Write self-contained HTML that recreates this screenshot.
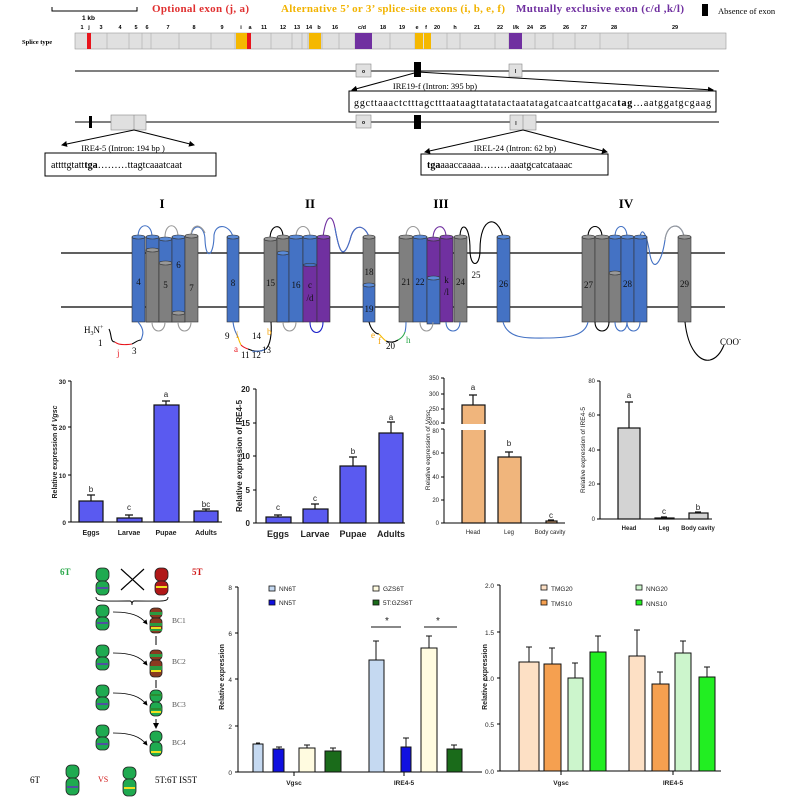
<!DOCTYPE html>
<html><head><meta charset="utf-8"><style>
html,body{margin:0;padding:0;background:#fff;}
svg{display:block;}
text{font-family:"Liberation Sans",sans-serif;}
.s{font-family:"Liberation Serif",serif;}
</style></head><body>
<svg width="792" height="803" viewBox="0 0 792 803" xmlns="http://www.w3.org/2000/svg">
<defs>
<marker id="ar" markerWidth="6" markerHeight="6" refX="5" refY="3" orient="auto"><path d="M0,0 L6,3 L0,6 z" fill="#000"/></marker>
</defs>
<!-- ===== TOP HEADER ===== -->
<path d="M52,7 V11 H137 V7" fill="none" stroke="#000" stroke-width="1"/>
<text x="82" y="20" font-size="6.5" font-weight="bold">1 kb</text>
<text class="s" x="152" y="12" font-size="11" fill="#e03030" font-weight="bold" textLength="97">Optional exon (j, a)</text>
<text class="s" x="281" y="12" font-size="11" fill="#f2b300" font-weight="bold" textLength="224">Alternative 5’ or 3’ splice-site exons (i, b, e, f)</text>
<text class="s" x="516" y="12" font-size="11" fill="#7030a0" font-weight="bold" textLength="168">Mutually exclusive exon (c/d ,k/l)</text>
<rect x="702" y="4" width="6" height="12" fill="#000"/>
<text class="s" x="718" y="14" font-size="8.5">Absence  of exon</text>
<!-- exon labels -->
<g font-size="5.5" font-weight="bold" text-anchor="middle">
<text x="82" y="29">1</text><text x="89" y="29">j</text><text x="101" y="29">3</text><text x="120" y="29">4</text><text x="136" y="29">5</text><text x="147" y="29">6</text><text x="168" y="29">7</text><text x="194" y="29">8</text><text x="222" y="29">9</text><text x="241" y="29">i</text><text x="250" y="29">a</text><text x="264" y="29">11</text><text x="283" y="29">12</text><text x="297" y="29">13</text><text x="309" y="29">14</text><text x="319" y="29">b</text><text x="335" y="29">16</text><text x="362" y="29">c/d</text><text x="383" y="29">18</text><text x="402" y="29">19</text><text x="417" y="29">e</text><text x="426" y="29">f</text><text x="437" y="29">20</text><text x="455" y="29">h</text><text x="477" y="29">21</text><text x="500" y="29">22</text><text x="516" y="29">l/k</text><text x="530" y="29">24</text><text x="543" y="29">25</text><text x="566" y="29">26</text><text x="584" y="29">27</text><text x="614" y="29">28</text><text x="675" y="29">29</text>
</g>
<text class="s" x="22" y="44" font-size="6.5" font-weight="bold">Splice type</text>
<rect x="75" y="33" width="651" height="16" fill="#e0e0e0" stroke="#999" stroke-width=".6"/>
<g stroke="#aaa" stroke-width=".6">
<path d="M107,33V49M129,33V49M142,33V49M151,33V49M179,33V49M211,33V49M235,33V49M271,33V49M292,33V49M302,33V49M308,33V49M322,33V49M339,33V49M355,33V49M390,33V49M415,33V49M447,33V49M460,33V49M495,33V49M509,33V49M535,33V49M553,33V49M575,33V49M600,33V49M628,33V49"/>
</g>
<rect x="87" y="33" width="4" height="16" fill="#e8141c"/>
<rect x="236" y="33" width="11" height="16" fill="#f5b800"/>
<rect x="247" y="33" width="4" height="16" fill="#e8141c"/>
<rect x="309" y="33" width="12" height="16" fill="#f5b800"/>
<rect x="355" y="33" width="17" height="16" fill="#7030a0"/>
<rect x="415" y="33" width="8" height="16" fill="#f5b800"/>
<rect x="424" y="33" width="7" height="16" fill="#f5b800"/>
<rect x="509" y="33" width="13" height="16" fill="#7030a0"/>
<!-- line 1 -->
<line x1="75" y1="71" x2="719" y2="71" stroke="#000" stroke-width="1"/>
<rect x="356" y="64" width="15" height="13" fill="#e0e0e0" stroke="#888" stroke-width=".6"/><text x="363.5" y="73" font-size="5" text-anchor="middle" font-weight="bold">o</text>
<rect x="414" y="62" width="7" height="15" fill="#000"/>
<rect x="509" y="64" width="13" height="13" fill="#e0e0e0" stroke="#888" stroke-width=".6"/><text x="515.5" y="73" font-size="5" text-anchor="middle" font-weight="bold">l</text>
<line x1="418" y1="72" x2="352" y2="90" stroke="#000" stroke-width="1" marker-end="url(#ar)"/>
<line x1="418" y1="72" x2="713" y2="90" stroke="#000" stroke-width="1" marker-end="url(#ar)"/>
<text class="s" x="435" y="89" font-size="8.5" text-anchor="middle">IRE19-f  (Intron: 395 bp)</text>
<rect x="349" y="91" width="367" height="21" fill="#fff" stroke="#000" stroke-width="1"/>
<text class="s" x="354" y="106" font-size="10" textLength="357">ggcttaaactctttagctttaataagttatatactaatatagatcaatcattgaca<tspan font-weight="bold">tag</tspan>…aatggatgcgaag</text>
<!-- line 2 -->
<line x1="75" y1="122" x2="719" y2="122" stroke="#000" stroke-width="1"/>
<rect x="89" y="116" width="3" height="12" fill="#000"/>
<rect x="111" y="115" width="35" height="15" fill="#e0e0e0" stroke="#888" stroke-width=".6"/><line x1="134" y1="115" x2="134" y2="130" stroke="#888" stroke-width=".6"/>
<rect x="356" y="115" width="15" height="13" fill="#e0e0e0" stroke="#888" stroke-width=".6"/><text x="363.5" y="124" font-size="5" text-anchor="middle" font-weight="bold">o</text>
<rect x="414" y="115" width="7" height="14" fill="#000"/>
<rect x="510" y="115" width="26" height="15" fill="#e0e0e0" stroke="#888" stroke-width=".6"/><line x1="523" y1="115" x2="523" y2="130" stroke="#888" stroke-width=".6"/><text x="516" y="125" font-size="5" text-anchor="middle" font-weight="bold">l</text>
<line x1="134" y1="130" x2="62" y2="145" stroke="#000" stroke-width="1" marker-end="url(#ar)"/>
<line x1="134" y1="130" x2="194" y2="145" stroke="#000" stroke-width="1" marker-end="url(#ar)"/>
<text class="s" x="123" y="151" font-size="8.5" text-anchor="middle">IRE4-5 (Intron: 194 bp )</text>
<rect x="45" y="153" width="171" height="23" fill="#fff" stroke="#000" stroke-width="1"/>
<text class="s" x="51" y="168" font-size="10">attttgtatt<tspan font-weight="bold">tga</tspan>………ttagtcaaatcaat</text>
<line x1="523" y1="130" x2="425" y2="152" stroke="#000" stroke-width="1" marker-end="url(#ar)"/>
<line x1="523" y1="130" x2="607" y2="152" stroke="#000" stroke-width="1" marker-end="url(#ar)"/>
<text class="s" x="515" y="151" font-size="8.5" text-anchor="middle">IREL-24 (Intron: 62 bp)</text>
<rect x="421" y="154" width="187" height="21" fill="#fff" stroke="#000" stroke-width="1"/>
<text class="s" x="427" y="168" font-size="10"><tspan font-weight="bold">tga</tspan>aaaccaaaa………aaatgcatcataaac</text>

<!-- ===== MEMBRANE ===== -->
<g class="s" font-size="13" font-weight="bold" text-anchor="middle" font-family="Liberation Serif,serif">
<text x="162" y="208" class="s">I</text><text x="310" y="208" class="s">II</text><text x="441" y="208" class="s">III</text><text x="626" y="208" class="s">IV</text></g>
<line x1="61" y1="253" x2="725" y2="253" stroke="#000" stroke-width="1.2"/>
<line x1="61" y1="307" x2="725" y2="307" stroke="#000" stroke-width="1.2"/>
<!-- loops above -->
<g fill="none" stroke-width="1.1">
<path d="M138,237 C138,222 152,222 152,237" stroke="#4472c4"/>
<path d="M165,237 C165,222 178,222 178,237" stroke="#999"/>
<path d="M191,236 C193,222 205,225 205,240 C206,262 214,255 214,235 C216,222 230,225 233,237" stroke="#4472c4"/>
<path d="M191,236 C191,225 200,222 205,233" stroke="#999"/>
<path d="M270,239 C270,223 283,223 283,237" stroke="#000"/>
<path d="M296,237 C296,223 310,223 310,237" stroke="#999"/>
<path d="M323,237 C326,215 332,212 335,228 C338,245 342,265 350,240 C354,222 365,225 369,237" stroke="#7030a0"/>
<path d="M335,228 C338,245 342,265 350,240 C354,222 365,225 369,237" stroke="#4472c4"/>
<path d="M406,237 C406,223 420,223 420,237" stroke="#999"/>
<path d="M433,239 C433,223 446,223 446,237" stroke="#7030a0"/>
<path d="M460,237 C460,222 470,222 470,250 C470,268 480,268 480,250 C480,215 498,215 503,237" stroke="#000"/>
<path d="M588,237 C588,223 602,223 602,237" stroke="#000"/>
<path d="M615,237 C615,223 627,223 627,237" stroke="#4472c4"/>
<path d="M640,237 C642,225 647,235 650,255 C654,275 662,260 665,240 C667,222 682,222 684,237" stroke="#4472c4"/>
<path d="M665,240 C667,222 682,222 684,237" stroke="#999"/>
</g>
<!-- cylinders -->
<g stroke="#333" stroke-width=".6">
<!-- I -->
<rect x="132" y="237" width="13" height="85" fill="#4472c4"/><ellipse cx="138.5" cy="237" rx="6.5" ry="2" fill="#5b8bd8"/>
<rect x="146" y="237" width="13" height="85" fill="#4472c4"/><ellipse cx="152.5" cy="237" rx="6.5" ry="2" fill="#5b8bd8"/>
<rect x="146" y="250" width="13" height="72" fill="#7f7f7f"/><ellipse cx="152.5" cy="250" rx="6.5" ry="2" fill="#999"/>
<rect x="159" y="239" width="13" height="83" fill="#4472c4"/><ellipse cx="165.5" cy="239" rx="6.5" ry="2" fill="#5b8bd8"/>
<rect x="159" y="263" width="13" height="59" fill="#7f7f7f"/><ellipse cx="165.5" cy="263" rx="6.5" ry="2" fill="#999"/>
<rect x="172" y="237" width="13" height="85" fill="#4472c4"/><ellipse cx="178.5" cy="237" rx="6.5" ry="2" fill="#5b8bd8"/>
<rect x="172" y="313" width="13" height="9" fill="#7f7f7f"/><ellipse cx="178.5" cy="313" rx="6.5" ry="2" fill="#999"/>
<rect x="185" y="236" width="13" height="86" fill="#7f7f7f"/><ellipse cx="191.5" cy="236" rx="6.5" ry="2" fill="#999"/>
<rect x="227" y="237" width="12" height="85" fill="#4472c4"/><ellipse cx="233" cy="237" rx="6" ry="2" fill="#5b8bd8"/>
<!-- II -->
<rect x="264" y="239" width="13" height="83" fill="#7f7f7f"/><ellipse cx="270.5" cy="239" rx="6.5" ry="2" fill="#999"/>
<rect x="277" y="237" width="12" height="85" fill="#7f7f7f"/><ellipse cx="283" cy="237" rx="6" ry="2" fill="#999"/>
<rect x="277" y="253" width="12" height="69" fill="#4472c4"/><ellipse cx="283" cy="253" rx="6" ry="2" fill="#5b8bd8"/>
<rect x="289" y="237" width="14" height="85" fill="#4472c4"/><ellipse cx="296" cy="237" rx="7" ry="2" fill="#5b8bd8"/>
<rect x="303" y="237" width="14" height="85" fill="#7030a0"/>
<rect x="303" y="237" width="14" height="28" fill="#4472c4"/><ellipse cx="310" cy="237" rx="7" ry="2" fill="#5b8bd8"/><ellipse cx="310" cy="265" rx="7" ry="1.5" fill="#4472c4"/>
<rect x="317" y="237" width="13" height="85" fill="#7030a0"/><ellipse cx="323.5" cy="237" rx="6.5" ry="2" fill="#8a4cbb"/>
<rect x="363" y="237" width="12" height="48" fill="#7f7f7f"/><ellipse cx="369" cy="237" rx="6" ry="2" fill="#999"/>
<rect x="363" y="285" width="12" height="37" fill="#4472c4"/><ellipse cx="369" cy="285" rx="6" ry="2" fill="#5b8bd8"/>
<!-- III -->
<rect x="399" y="237" width="14" height="85" fill="#7f7f7f"/><ellipse cx="406" cy="237" rx="7" ry="2" fill="#999"/>
<rect x="413" y="237" width="14" height="85" fill="#4472c4"/><ellipse cx="420" cy="237" rx="7" ry="2" fill="#5b8bd8"/>
<rect x="427" y="239" width="13" height="83" fill="#7030a0"/><ellipse cx="433.5" cy="239" rx="6.5" ry="2" fill="#8a4cbb"/>
<rect x="427" y="278" width="13" height="46" fill="#4472c4"/><ellipse cx="433.5" cy="278" rx="6.5" ry="2" fill="#5b8bd8"/>
<rect x="440" y="237" width="13" height="85" fill="#7030a0"/><ellipse cx="446.5" cy="237" rx="6.5" ry="2" fill="#8a4cbb"/>
<rect x="454" y="237" width="13" height="85" fill="#7f7f7f"/><ellipse cx="460.5" cy="237" rx="6.5" ry="2" fill="#999"/>
<rect x="497" y="237" width="13" height="85" fill="#4472c4"/><ellipse cx="503.5" cy="237" rx="6.5" ry="2" fill="#5b8bd8"/>
<!-- IV -->
<rect x="582" y="237" width="13" height="85" fill="#7f7f7f"/><ellipse cx="588.5" cy="237" rx="6.5" ry="2" fill="#999"/>
<rect x="595" y="237" width="14" height="85" fill="#7f7f7f"/><ellipse cx="602" cy="237" rx="7" ry="2" fill="#999"/>
<rect x="609" y="237" width="12" height="85" fill="#4472c4"/><ellipse cx="615" cy="237" rx="6" ry="2" fill="#5b8bd8"/>
<rect x="609" y="273" width="12" height="49" fill="#7f7f7f"/><ellipse cx="615" cy="273" rx="6" ry="2" fill="#999"/>
<rect x="621" y="237" width="13" height="85" fill="#4472c4"/><ellipse cx="627.5" cy="237" rx="6.5" ry="2" fill="#5b8bd8"/>
<rect x="634" y="237" width="13" height="85" fill="#4472c4"/><ellipse cx="640.5" cy="237" rx="6.5" ry="2" fill="#5b8bd8"/>
<rect x="678" y="237" width="13" height="85" fill="#7f7f7f"/><ellipse cx="684.5" cy="237" rx="6.5" ry="2" fill="#999"/>
</g>
<!-- cylinder labels -->
<g class="s" font-size="9" text-anchor="middle" fill="#111" font-family="Liberation Serif,serif">
<text x="138.5" y="285" class="s">4</text><text x="165.5" y="288" class="s">5</text><text x="178.5" y="268" class="s">6</text><text x="191.5" y="291" class="s">7</text><text x="233" y="286" class="s">8</text>
<text x="270.5" y="286" class="s">15</text><text x="296" y="288" class="s">16</text><text x="310" y="288" class="s">c</text><text x="310" y="301" class="s">/d</text>
<text x="369" y="275" class="s">18</text><text x="369" y="312" class="s">19</text>
<text x="406" y="285" class="s">21</text><text x="420" y="285" class="s">22</text><text x="446.5" y="283" class="s">k</text><text x="446.5" y="295" class="s">/l</text><text x="460.5" y="285" class="s">24</text><text x="476" y="278" class="s">25</text><text x="503.5" y="287" class="s">26</text>
<text x="588.5" y="288" class="s">27</text><text x="627.5" y="287" class="s">28</text><text x="684.5" y="287" class="s">29</text>
</g>
<!-- loops below -->
<g fill="none" stroke-width="1.1">
<path d="M152,322 C152,334 165,334 165,322" stroke="#999"/>
<path d="M178,322 C178,334 191,334 191,322" stroke="#999"/>
<path d="M283,322 C283,334 296,334 296,322" stroke="#999"/>
<path d="M310,322 C310,336 323,336 323,322" stroke="#1d22c8"/>
<path d="M420,322 C420,334 433,334 433,322" stroke="#999"/>
<path d="M446,322 C446,334 460,334 460,322" stroke="#4472c4"/>
<path d="M595,322 C595,334 609,334 609,322" stroke="#000"/>
<path d="M615,322 C615,334 627,334 627,322" stroke="#4472c4"/>
<path d="M627,322 C627,334 640,334 640,322" stroke="#4472c4"/>
<path d="M503,322 C508,340 530,338 545,338 C565,338 585,337 588,322" stroke="#4472c4"/>
<path d="M685,322 C688,350 700,362 710,360 C718,358 722,350 724,345" stroke="#000"/>
<!-- N-terminal -->
<path d="M109,329 C112,335 110,342 115,342" stroke="#000"/>
<path d="M115,342 C118,345 125,345 132,344" stroke="#e8141c"/>
<path d="M132,344 C136,342 138,340 141,340" stroke="#000"/>
<path d="M141,340 C143,335 145,330 138,322" stroke="#4472c4"/>
<!-- 9-14 -->
<path d="M233,322 C234,330 236,333 238,337" stroke="#4472c4"/>
<path d="M238,337 C239,341 240,343 241,345" stroke="#f5b800"/>
<path d="M241,345 C243,347 245,348 248,349" stroke="#e8141c"/>
<path d="M248,349 C255,352 260,352 266,349" stroke="#000"/>
<path d="M266,349 C270,345 272,335 271,322" stroke="#000"/>
<path d="M266,349 C262,351 258,352 252,351" stroke="#4472c4"/>
<!-- e f 20 h -->
<path d="M369,322 C371,330 376,334 379,334" stroke="#000"/>
<path d="M379,334 C381,336 383,339 386,341" stroke="#f5b800"/>
<path d="M386,341 C390,343 395,342 398,340" stroke="#000"/>
<path d="M398,340 C402,338 404,335 405,332" stroke="#2aa84a"/>
<path d="M405,332 C406,328 406,325 406,322" stroke="#4472c4"/>
</g>
<g class="s" font-size="9" font-family="Liberation Serif,serif">
<text x="84" y="333" class="s">H<tspan font-size="6" dy="2">3</tspan><tspan dy="-2">N</tspan><tspan font-size="6" dy="-4">+</tspan></text>
<text x="98" y="346" class="s">1</text><text x="117" y="356" fill="#e8141c" class="s">j</text><text x="132" y="354" class="s">3</text>
<text x="225" y="339" class="s">9</text><text x="236" y="338" fill="#f5a000" class="s">i</text><text x="234" y="352" fill="#e8141c" class="s">a</text><text x="241" y="358" class="s">11 12</text><text x="262" y="353" class="s">13</text><text x="252" y="339" class="s">14</text><text x="267" y="335" fill="#f5a000" class="s">b</text>
<text x="371" y="338" fill="#f5a000" class="s">e</text><text x="378" y="344" fill="#f5a000" class="s">f</text><text x="386" y="349" class="s">20</text><text x="406" y="343" fill="#2aa84a" class="s">h</text>
<text x="720" y="345" class="s">COO<tspan font-size="6" dy="-4">-</tspan></text>
</g>

<!-- ===== CHARTS ROW 1 ===== -->
<g font-size="6.5" font-weight="bold" fill="#222">
<!-- chart1 -->
<line x1="71" y1="381" x2="71" y2="522" stroke="#000"/><line x1="71" y1="522" x2="222" y2="522" stroke="#000"/>
<path d="M68,381H71M68,427H71M68,475H71M68,522H71" stroke="#000"/>
<text x="66" y="384" text-anchor="end">30</text><text x="66" y="430" text-anchor="end">20</text><text x="66" y="478" text-anchor="end">10</text><text x="66" y="525" text-anchor="end">0</text>
<text transform="translate(57,452) rotate(-90)" text-anchor="middle" font-size="7">Relative expression  of <tspan font-style="italic">Vgsc</tspan></text>
<g fill="#5a5af0" stroke="#111" stroke-width="1.2">
<rect x="79" y="501" width="24" height="21"/><rect x="117" y="518" width="25" height="4"/><rect x="154" y="405" width="25" height="117"/><rect x="194" y="511" width="24" height="11"/></g>
<path d="M91,501V495M87,495H95M129,518V515M125,515H133M166,405V401M162,401H170M206,511V509M202,509H210" stroke="#111" stroke-width="1.2"/>
<g font-weight="normal" font-size="8" text-anchor="middle"><text x="91" y="492">b</text><text x="129" y="510">c</text><text x="166" y="397">a</text><text x="206" y="507">bc</text></g>
<g text-anchor="middle" font-size="7"><text x="91" y="535">Eggs</text><text x="129" y="535">Larvae</text><text x="166" y="535">Pupae</text><text x="206" y="535">Adults</text></g>
<!-- chart2 -->
<line x1="256" y1="389" x2="256" y2="523" stroke="#000"/><line x1="256" y1="523" x2="405" y2="523" stroke="#000"/>
<path d="M253,389H256M253,423H256M253,456H256M253,490H256M253,523H256" stroke="#000"/>
<g font-size="8"><text x="250" y="392" text-anchor="end">20</text><text x="250" y="426" text-anchor="end">15</text><text x="250" y="459" text-anchor="end">10</text><text x="250" y="493" text-anchor="end">5</text><text x="250" y="526" text-anchor="end">0</text></g>
<text transform="translate(242,456) rotate(-90)" text-anchor="middle" font-size="8">Relative expression  of IRE4-5</text>
<g fill="#5a5af0" stroke="#111" stroke-width="1.2">
<rect x="266" y="517" width="25" height="6"/><rect x="303" y="509" width="25" height="14"/><rect x="340" y="466" width="26" height="57"/><rect x="379" y="433" width="24" height="90"/></g>
<path d="M278,517V515M274,515H282M315,509V504M311,504H319M353,466V457M349,457H357M391,433V422M387,422H395" stroke="#111" stroke-width="1.2"/>
<g font-weight="normal" font-size="8" text-anchor="middle"><text x="278" y="510">c</text><text x="315" y="501">c</text><text x="353" y="454">b</text><text x="391" y="420">a</text></g>
<g text-anchor="middle" font-size="9"><text x="278" y="537">Eggs</text><text x="315" y="537">Larvae</text><text x="353" y="537">Pupae</text><text x="391" y="537">Adults</text></g>
<!-- chart3 -->
<line x1="444" y1="378" x2="444" y2="424" stroke="#000"/><line x1="444" y1="429" x2="444" y2="523" stroke="#000"/><line x1="444" y1="523" x2="565" y2="523" stroke="#000"/>
<path d="M441,378H444M441,394H444M441,409H444M441,423H444M441,429H444M441,453H444M441,477H444M441,500H444M441,523H444" stroke="#000"/>
<g font-weight="normal" font-size="6"><text x="439" y="380" text-anchor="end">350</text><text x="439" y="396" text-anchor="end">300</text><text x="439" y="411" text-anchor="end">250</text><text x="439" y="425" text-anchor="end">200</text><text x="439" y="433" text-anchor="end">80</text><text x="439" y="455" text-anchor="end">60</text><text x="439" y="479" text-anchor="end">40</text><text x="439" y="502" text-anchor="end">20</text><text x="439" y="525" text-anchor="end">0</text></g>
<text transform="translate(430,450) rotate(-90)" text-anchor="middle" font-size="6.5" font-weight="normal">Relative expression  of <tspan font-style="italic">Vgsc</tspan></text>
<g fill="#f0b57c" stroke="#111" stroke-width="1.2"><rect x="462" y="405" width="23" height="118"/><rect x="498" y="457" width="23" height="66"/><rect x="546" y="521" width="11" height="2"/></g>
<rect x="460" y="424" width="27" height="6" fill="#fff"/>
<path d="M473,405V395M469,395H477M509,457V452M505,452H513M551,521V520M548,520H554" stroke="#111" stroke-width="1.2"/>
<g font-weight="normal" font-size="8" text-anchor="middle"><text x="473" y="390">a</text><text x="509" y="446">b</text><text x="551" y="518">c</text></g>
<g text-anchor="middle" font-size="6" font-weight="normal"><text x="473" y="534">Head</text><text x="509" y="534">Leg</text><text x="550" y="534">Body cavity</text></g>
<!-- chart4 -->
<line x1="600" y1="381" x2="600" y2="519" stroke="#000"/><line x1="600" y1="519" x2="712" y2="519" stroke="#000"/>
<path d="M597,381H600M597,415H600M597,450H600M597,484H600M597,519H600" stroke="#000"/>
<g font-weight="normal" font-size="6"><text x="595" y="383" text-anchor="end">80</text><text x="595" y="417" text-anchor="end">60</text><text x="595" y="452" text-anchor="end">40</text><text x="595" y="486" text-anchor="end">20</text><text x="595" y="521" text-anchor="end">0</text></g>
<text transform="translate(585,450) rotate(-90)" text-anchor="middle" font-size="6.5" font-weight="normal">Relative expression  of IRE4-5</text>
<g fill="#d3d3d3" stroke="#111" stroke-width="1.2"><rect x="618" y="428" width="22" height="91"/><rect x="655" y="518" width="19" height="1"/><rect x="689" y="513" width="19" height="6"/></g>
<path d="M629,428V402M625,402H633M664,518V517M661,517H667M698,513V512M695,512H701" stroke="#111" stroke-width="1.2"/>
<g font-weight="normal" font-size="8" text-anchor="middle"><text x="629" y="398">a</text><text x="664" y="514">c</text><text x="698" y="510">b</text></g>
<g text-anchor="middle" font-size="6"><text x="629" y="530">Head</text><text x="664" y="530">Leg</text><text x="698" y="530">Body cavity</text></g>
</g>

<!-- ===== BOTTOM LEFT DIAGRAM ===== -->
<g class="s" font-family="Liberation Serif,serif">
<text x="60" y="575" font-size="9" fill="#2aa84a" font-weight="bold" class="s">6T</text>
<text x="192" y="575" font-size="9" fill="#d01818" font-weight="bold" class="s">5T</text>
<g font-size="7.5" fill="#555"><text x="172" y="623" class="s">BC1</text><text x="172" y="664" class="s">BC2</text><text x="172" y="707" class="s">BC3</text><text x="172" y="745" class="s">BC4</text></g>
<text x="30" y="783" font-size="9" class="s">6T</text>
<text x="98" y="782" font-size="8" fill="#d01818" class="s">VS</text>
<text x="155" y="783" font-size="9" class="s">5T:6T IS5T</text>
</g>
<g stroke="#222" stroke-width=".8">
<!-- chromosomes -->
<g fill="#1faa50">
<rect x="96" y="568" width="13" height="13" rx="5"/><rect x="96" y="581" width="13" height="14" rx="5"/>
<rect x="96" y="605" width="13" height="12" rx="5"/><rect x="96" y="617" width="13" height="13" rx="5"/>
<rect x="96" y="645" width="13" height="12" rx="5"/><rect x="96" y="657" width="13" height="13" rx="5"/>
<rect x="96" y="685" width="13" height="12" rx="5"/><rect x="96" y="697" width="13" height="13" rx="5"/>
<rect x="96" y="725" width="13" height="12" rx="5"/><rect x="96" y="737" width="13" height="13" rx="5"/>
<rect x="150" y="690" width="12" height="12" rx="5"/><rect x="150" y="702" width="12" height="14" rx="5"/>
<rect x="150" y="731" width="12" height="11" rx="5"/><rect x="150" y="742" width="12" height="14" rx="5"/>
<rect x="66" y="765" width="13" height="13" rx="5"/><rect x="66" y="778" width="13" height="17" rx="5"/>
<rect x="123" y="767" width="13" height="12" rx="5"/><rect x="123" y="779" width="13" height="17" rx="5"/>
</g>
<g fill="#b01818"><rect x="155" y="568" width="13" height="13" rx="5"/><rect x="155" y="581" width="13" height="14" rx="5"/></g>
<g fill="#8a3a20"><rect x="150" y="608" width="12" height="10" rx="4"/><rect x="150" y="618" width="12" height="15" rx="4"/>
<rect x="150" y="650" width="12" height="10" rx="4"/><rect x="150" y="660" width="12" height="17" rx="4"/></g>
</g>
<g stroke="none">
<rect x="150" y="612" width="12" height="3" fill="#2a9a40"/><rect x="150" y="623" width="12" height="3" fill="#2a9a40"/><rect x="150" y="629" width="12" height="2" fill="#2a9a40"/>
<rect x="150" y="654" width="12" height="3" fill="#2a9a40"/><rect x="150" y="666" width="12" height="4" fill="#2a9a40"/>
<rect x="150" y="694" width="12" height="2" fill="#2a8a30"/><rect x="150" y="708" width="12" height="2" fill="#2a8a30"/>
<rect x="97" y="587" width="11" height="2" fill="#5050a0"/><rect x="97" y="622" width="11" height="2" fill="#5050a0"/><rect x="97" y="663" width="11" height="2" fill="#5050a0"/><rect x="97" y="703" width="11" height="2" fill="#5050a0"/><rect x="97" y="743" width="11" height="2" fill="#5050a0"/><rect x="67" y="786" width="11" height="2" fill="#5050a0"/>
<rect x="156" y="586" width="11" height="2" fill="#f0e020"/><rect x="151" y="627" width="10" height="2" fill="#f0e020"/><rect x="151" y="670" width="10" height="2" fill="#f0e020"/><rect x="151" y="711" width="10" height="2" fill="#f0e020"/><rect x="151" y="751" width="10" height="2" fill="#f0e020"/><rect x="124" y="787" width="11" height="2" fill="#f0e020"/>
</g>
<g stroke="#000" stroke-width="1.2" fill="none">
<path d="M121,569 L144,590 M144,569 L121,590"/>
<path d="M96,597 C96,602 100,601 130,601 C132,601 132,604 132,605 C132,604 132,601 134,601 C164,601 168,602 168,597" stroke-width=".9"/>
<path d="M113,612 C130,612 140,615 147,624" stroke-width=".8" marker-end="url(#ar)"/>
<path d="M113,653 C130,653 140,656 147,665" stroke-width=".8" marker-end="url(#ar)"/>
<path d="M113,693 C130,693 140,696 147,705" stroke-width=".8" marker-end="url(#ar)"/>
<path d="M113,733 C130,733 140,736 147,745" stroke-width=".8" marker-end="url(#ar)"/>
<path d="M156,636 V645 M156,680 V688 M156,719 V728" stroke-width="1" marker-end="url(#ar)"/>
</g>

<!-- ===== CHART 5 ===== -->
<g font-size="6.5" font-weight="bold" fill="#222">
<line x1="238" y1="587" x2="238" y2="772" stroke="#000"/><line x1="238" y1="772" x2="482" y2="772" stroke="#000"/>
<path d="M235,587H238M235,633H238M235,679H238M235,726H238M235,772H238M294,772V776M404,772V776" stroke="#000"/>
<g font-weight="normal"><text x="232" y="590" text-anchor="end">8</text><text x="232" y="636" text-anchor="end">6</text><text x="232" y="682" text-anchor="end">4</text><text x="232" y="729" text-anchor="end">2</text><text x="232" y="775" text-anchor="end">0</text></g>
<text transform="translate(224,677) rotate(-90)" text-anchor="middle" font-size="7">Relative expression</text>
<g stroke="#111" stroke-width="1">
<rect x="253" y="744" width="10" height="28" fill="#c5d9f1"/><rect x="273" y="749" width="11" height="23" fill="#1010e0"/><rect x="299" y="748" width="16" height="24" fill="#fffbe0"/><rect x="325" y="751" width="16" height="21" fill="#1a6b1a"/>
<rect x="369" y="660" width="15" height="112" fill="#c5d9f1"/><rect x="401" y="747" width="10" height="25" fill="#1010e0"/><rect x="421" y="648" width="16" height="124" fill="#fffbe0"/><rect x="447" y="749" width="15" height="23" fill="#1a6b1a"/>
</g>
<path d="M258,744V743M256,743H260M279,749V747M276,747H282M307,748V745M304,745H310M333,751V748M330,748H336M376,660V641M373,641H379M406,747V738M403,738H409M429,648V636M426,636H432M454,749V745M451,745H457M371,627H401M424,627H457" stroke="#111" stroke-width="1"/>
<text x="387" y="624" font-size="10" font-weight="normal" text-anchor="middle">*</text><text x="438" y="624" font-size="10" font-weight="normal" text-anchor="middle">*</text>
<rect x="269" y="586" width="6" height="5" fill="#c5d9f1" stroke="#111" stroke-width=".8"/><text x="279" y="591" font-weight="normal">NN6T</text>
<rect x="269" y="600" width="6" height="5" fill="#1010e0" stroke="#111" stroke-width=".8"/><text x="279" y="605" font-weight="normal">NN5T</text>
<rect x="373" y="586" width="6" height="5" fill="#fffbe0" stroke="#111" stroke-width=".8"/><text x="383" y="591" font-weight="normal">GZS6T</text>
<rect x="373" y="600" width="6" height="5" fill="#1a6b1a" stroke="#111" stroke-width=".8"/><text x="383" y="605" font-weight="normal">5T:GZS6T</text>
<text x="294" y="785" text-anchor="middle">Vgsc</text><text x="404" y="785" text-anchor="middle">IRE4-5</text>
</g>

<!-- ===== CHART 6 ===== -->
<g font-size="6.5" font-weight="bold" fill="#222">
<line x1="500" y1="585" x2="500" y2="771" stroke="#000"/><line x1="500" y1="771" x2="721" y2="771" stroke="#000"/>
<path d="M497,585H500M497,632H500M497,678H500M497,724H500M497,771H500M561,771V775M673,771V775" stroke="#000"/>
<g font-weight="normal"><text x="494" y="588" text-anchor="end">2.0</text><text x="494" y="635" text-anchor="end">1.5</text><text x="494" y="681" text-anchor="end">1.0</text><text x="494" y="727" text-anchor="end">0.5</text><text x="494" y="774" text-anchor="end">0.0</text></g>
<text transform="translate(487,677) rotate(-90)" text-anchor="middle" font-size="7">Relative expression</text>
<g stroke="#111" stroke-width="1">
<rect x="519" y="662" width="20" height="109" fill="#fde0c5"/><rect x="544" y="664" width="17" height="107" fill="#f5a050"/><rect x="568" y="678" width="15" height="93" fill="#ccf5cc"/><rect x="590" y="652" width="16" height="119" fill="#22ee22"/>
<rect x="629" y="656" width="16" height="115" fill="#fde0c5"/><rect x="652" y="684" width="17" height="87" fill="#f5a050"/><rect x="675" y="653" width="16" height="118" fill="#ccf5cc"/><rect x="699" y="677" width="16" height="94" fill="#22ee22"/>
</g>
<path d="M529,662V647M526,647H532M552,664V648M549,648H555M575,678V663M572,663H578M598,652V636M595,636H601M637,656V630M634,630H640M660,684V672M657,672H663M683,653V641M680,641H686M707,677V667M704,667H710" stroke="#111" stroke-width="1"/>
<rect x="541" y="585" width="6" height="5" fill="#fde0c5" stroke="#111" stroke-width=".8"/><text x="551" y="591" font-weight="normal">TMG20</text>
<rect x="541" y="600" width="6" height="5" fill="#f5a050" stroke="#111" stroke-width=".8"/><text x="551" y="606" font-weight="normal">TMS10</text>
<rect x="636" y="585" width="6" height="5" fill="#ccf5cc" stroke="#111" stroke-width=".8"/><text x="646" y="591" font-weight="normal">NNG20</text>
<rect x="636" y="600" width="6" height="5" fill="#22ee22" stroke="#111" stroke-width=".8"/><text x="646" y="606" font-weight="normal">NNS10</text>
<text x="561" y="785" text-anchor="middle">Vgsc</text><text x="673" y="785" text-anchor="middle">IRE4-5</text>
</g>
</svg>
</body></html>
